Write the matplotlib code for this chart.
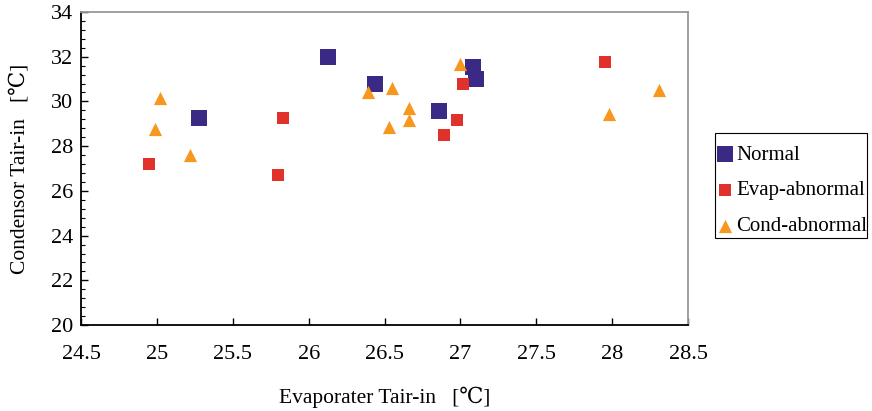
import matplotlib
matplotlib.use("Agg")
import matplotlib.pyplot as plt
from matplotlib.patches import Rectangle
from matplotlib.ticker import MultipleLocator

plt.rcParams['font.family'] = ['Liberation Serif', 'DejaVu Serif']

# Normal operation
normal_evap = [25.28, 26.13, 26.44, 26.86, 27.08, 27.10]
normal_cond = [29.25, 32.00, 30.80, 29.55, 31.55, 31.00]

# Evaporator fault
evap_evap = [24.95, 25.83, 25.80, 27.02, 26.98, 26.89, 27.95]
evap_cond = [27.20, 29.25, 26.70, 30.80, 29.15, 28.50, 31.75]

# Condenser fault
cond_evap = [25.02, 24.99, 25.22, 26.39, 26.55, 26.66, 26.66, 26.53, 27.00, 28.31, 27.98]
cond_cond = [30.15, 28.75, 27.60, 30.40, 30.60, 29.70, 29.17, 28.85, 31.65, 30.50, 29.45]

x_ticks = [24.5, 25, 25.5, 26, 26.5, 27, 27.5, 28, 28.5]
x_tick_labels = ['24.5', '25', '25.5', '26', '26.5', '27', '27.5', '28', '28.5']

fig = plt.figure(figsize=(8.72, 4.11), dpi=100)
ax = fig.add_axes([0.093, 0.209, 0.696, 0.762])

ax.scatter(normal_evap, normal_cond, marker='s', s=12 ** 2, color='#3B2A85',
           linewidths=0, label='Normal', zorder=3)
ax.scatter(evap_evap, evap_cond, marker='s', s=8 ** 2, color='#E0322A',
           linewidths=0, label='Evap-abnormal', zorder=3)
ax.scatter(cond_evap, cond_cond, marker='^', s=9.5 ** 2, color='#F7971E',
           linewidths=0, label='Cond-abnormal', zorder=3)

ax.set_xlim(24.5, 28.5)
ax.set_ylim(20, 34)
ax.set_xticks(x_ticks)
ax.set_xticklabels(x_tick_labels)
ax.yaxis.set_major_locator(MultipleLocator(2))
ax.yaxis.set_minor_locator(MultipleLocator(0.4))

ax.tick_params(axis='x', which='major', direction='in', length=5, width=1,
               pad=14, labelsize=16)
ax.tick_params(axis='y', which='major', direction='in', length=5, width=1,
               pad=6, labelsize=16)
ax.tick_params(axis='y', which='minor', direction='in', length=3, width=0.8)

for side in ['left', 'bottom']:
    ax.spines[side].set_color('black')
    ax.spines[side].set_linewidth(1.3)
for side in ['top', 'right']:
    ax.spines[side].set_color('#999999')
    ax.spines[side].set_linewidth(1.3)

ax.set_xlabel('Evaporater Tair-in   [\u2103]', fontsize=15.5, labelpad=17)
ax.set_ylabel('Condensor Tair-in   [\u2103]', fontsize=15.5, labelpad=15)

# legend entries without their own frame; the box is drawn separately
leg = fig.legend(loc='upper left', bbox_to_anchor=(0.822, 0.647),
                 fontsize=15, frameon=False, handletextpad=0.15,
                 handlelength=0.8, borderpad=0, labelspacing=0.78,
                 borderaxespad=0)
fig.add_artist(Rectangle((0.820, 0.421), 0.174, 0.255, transform=fig.transFigure,
                         fill=False, edgecolor='black', linewidth=0.8))

fig.savefig('out.png', dpi=100)
